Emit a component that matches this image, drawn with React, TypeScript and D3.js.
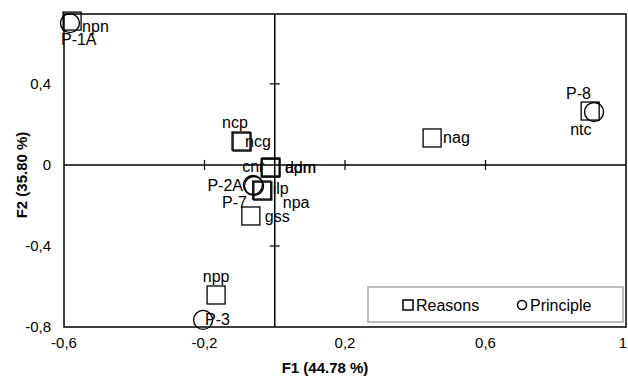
import React, { useRef, useEffect } from 'react';
import * as d3 from 'd3';

// Reasons (squares)
const reasonNames = ['npn', 'ncp', 'ncg', 'cnr', 'adm', 'dpm', 'ilp', 'npa', 'gss', 'npp', 'nag', 'ntc'];
const reasonF1 = [-0.577, -0.096, -0.093, -0.013, -0.011, -0.011, -0.037, -0.034, -0.068, -0.167, 0.448, 0.898];
const reasonF2 = [0.71, 0.118, 0.113, -0.015, -0.01, -0.015, -0.124, -0.129, -0.252, -0.642, 0.133, 0.266];

// Principles (circles)
const principleNames = ['P-1A', 'P-2A', 'P-7', 'P-3', 'P-8'];
const principleF1 = [-0.583, -0.062, -0.059, -0.204, 0.909];
const principleF2 = [0.7, -0.099, -0.104, -0.765, 0.261];

const xTicks = [-0.6, -0.2, 0.2, 0.6, 1];
const yTicks = [-0.8, -0.4, 0, 0.4];

// label placement (pixels, relative to marker)
const labelPos: Record<string, [number, number, string]> = {
  npn: [10, 11, 'start'],
  'P-1A': [-9, 22, 'start'],
  ncp: [-19, -13, 'start'],
  ncg: [3, 5, 'start'],
  cnr: [-28, 4, 'start'],
  adm: [14, 6, 'start'],
  dpm: [14, 5, 'start'],
  ilp: [11, 4, 'start'],
  npa: [20, 17, 'start'],
  'P-2A': [-10, 6, 'end'],
  'P-7': [-7, 22, 'end'],
  gss: [14, 6, 'start'],
  npp: [0, -13, 'middle'],
  'P-3': [2, 5, 'start'],
  nag: [11, 5, 'start'],
  ntc: [-20, 24, 'start'],
  'P-8': [-28, -13, 'start'],
};

const fmt = (v: number) => (Math.abs(v) < 1e-9 ? '0' : String(+v.toFixed(1)).replace('.', ','));

const App = () => {
  const svgRef = useRef<SVGSVGElement>(null);

  useEffect(() => {
    const svg = d3.select(svgRef.current);
    svg.selectAll('*').remove();
    const font = "Arial, 'Liberation Sans', sans-serif";

    const left = 64, right = 626, top = 14, bottom = 327;
    const x = d3.scaleLinear().domain([-0.6, 1]).range([left, right]);
    const y = d3.scaleLinear().domain([-0.8, 0.745]).range([bottom, top]);

    // frame
    svg.append('rect')
      .attr('x', left).attr('y', top)
      .attr('width', right - left).attr('height', bottom - top)
      .attr('fill', 'none').attr('stroke', '#000').attr('stroke-width', 1.5);

    // zero lines
    svg.append('line')
      .attr('x1', left).attr('x2', right).attr('y1', y(0)).attr('y2', y(0))
      .attr('stroke', '#000').attr('stroke-width', 1.5);
    svg.append('line')
      .attr('x1', x(0)).attr('x2', x(0)).attr('y1', top).attr('y2', bottom)
      .attr('stroke', '#000').attr('stroke-width', 1.5);

    // ticks on zero lines
    xTicks.filter(t => t > -0.6 && t < 1).forEach(t => {
      svg.append('line')
        .attr('x1', x(t)).attr('x2', x(t)).attr('y1', y(0) - 5).attr('y2', y(0) + 5)
        .attr('stroke', '#000').attr('stroke-width', 1.2);
    });
    yTicks.filter(t => t > -0.8 && t !== 0).forEach(t => {
      svg.append('line')
        .attr('x1', x(0) - 5).attr('x2', x(0) + 5).attr('y1', y(t)).attr('y2', y(t))
        .attr('stroke', '#000').attr('stroke-width', 1.2);
    });

    // tick labels
    svg.append('g').selectAll('text').data(xTicks).enter().append('text')
      .attr('x', d => (d === 1 ? x(d) + 1 : x(d))).attr('y', 348)
      .attr('text-anchor', d => (d === 1 ? 'end' : 'middle'))
      .style('font-family', font).style('font-size', '15px')
      .text(d => fmt(d));
    svg.append('g').selectAll('text').data(yTicks).enter().append('text')
      .attr('x', 51).attr('y', d => y(d) + 5)
      .attr('text-anchor', 'end')
      .style('font-family', font).style('font-size', '15px')
      .text(d => fmt(d));

    // axis titles
    svg.append('text')
      .attr('x', 325).attr('y', 373)
      .attr('text-anchor', 'middle')
      .style('font-family', font).style('font-size', '15px').style('font-weight', 'bold')
      .text('F1 (44.78 %)');
    svg.append('text')
      .attr('transform', `translate(27, 175) rotate(-90)`)
      .attr('text-anchor', 'middle')
      .style('font-family', font).style('font-size', '15px').style('font-weight', 'bold')
      .text('F2 (35.80 %)');

    const reasons = reasonNames.map((n, i) => ({ name: n, f1: reasonF1[i], f2: reasonF2[i] }));
    const principles = principleNames.map((n, i) => ({ name: n, f1: principleF1[i], f2: principleF2[i] }));

    const sq = 18;
    svg.append('g').selectAll('rect').data(reasons).enter().append('rect')
      .attr('x', d => x(d.f1) - sq / 2).attr('y', d => y(d.f2) - sq / 2)
      .attr('width', sq).attr('height', sq)
      .attr('fill', 'none').attr('stroke', '#000').attr('stroke-width', 1.3);
    svg.append('g').selectAll('circle').data(principles).enter().append('circle')
      .attr('cx', d => x(d.f1)).attr('cy', d => y(d.f2)).attr('r', 9.5)
      .attr('fill', 'none').attr('stroke', '#000').attr('stroke-width', 1.4);

    // point labels
    svg.append('g').selectAll('text').data([...reasons, ...principles]).enter().append('text')
      .attr('x', d => x(d.f1) + labelPos[d.name][0])
      .attr('y', d => y(d.f2) + labelPos[d.name][1])
      .attr('text-anchor', d => labelPos[d.name][2])
      .style('font-family', font).style('font-size', '16px')
      .text(d => d.name);

    // legend
    const lg = svg.append('g');
    lg.append('rect')
      .attr('x', 368).attr('y', 287).attr('width', 255).attr('height', 35)
      .attr('fill', '#fff').attr('stroke', '#a6a6a6').attr('stroke-width', 1.5);
    lg.append('rect')
      .attr('x', 403).attr('y', 300).attr('width', 10).attr('height', 10)
      .attr('fill', 'none').attr('stroke', '#000').attr('stroke-width', 1.5);
    lg.append('text')
      .attr('x', 416).attr('y', 311)
      .style('font-family', font).style('font-size', '16px')
      .text('Reasons');
    lg.append('circle')
      .attr('cx', 522).attr('cy', 305).attr('r', 4.5)
      .attr('fill', 'none').attr('stroke', '#000').attr('stroke-width', 1.5);
    lg.append('text')
      .attr('x', 530).attr('y', 311)
      .style('font-family', font).style('font-size', '16px')
      .text('Principle');
  }, []);

  return (
    <svg
      ref={svgRef}
      width={628}
      height={376}
      style={{ position: 'absolute', left: 0, top: 0, background: '#fff' }}
    />
  );
};

export default App;
